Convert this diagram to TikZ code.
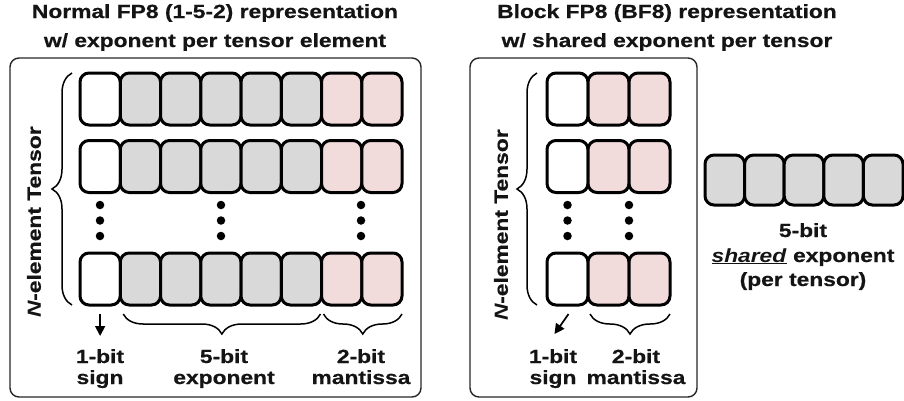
\documentclass[tikz,border=0pt]{standalone}
\usepackage{fontspec}
\setmainfont[FakeStretch=1.2, BoldFeatures={FakeBold=0.6}]{Liberation Sans}
\usetikzlibrary{decorations.pathreplacing,arrows.meta}
\definecolor{expgray}{HTML}{D9D9D9}
\definecolor{manpink}{HTML}{F2DCDB}
\definecolor{txt}{HTML}{141414}
\begin{document}
\begin{tikzpicture}[x=1pt,y=-1pt,
  cellbox/.style={draw=black, line width=3pt, rounded corners=9pt, minimum height=52pt, inner sep=0pt, outer sep=0pt},
  panel/.style={draw=black!85, line width=1.4pt, rounded corners=9pt, inner sep=0pt, outer sep=0pt},
  lbl/.style={anchor=base, inner sep=0pt, text=txt, font=\fontsize{19}{22}\selectfont\bfseries},
  dotnode/.style={circle, fill=black, inner sep=0pt, minimum size=8.5pt},
  bracestyle/.style={decorate, decoration={brace, amplitude=20pt}, line width=1.5pt},
  signarrow/.style={line width=1.7pt, -{Triangle[length=10pt,width=10pt]}}
]
\useasboundingbox (0,0) rectangle (904,400);

% titles
\node[lbl] (tL1) at (215,18) {Normal FP8 (1-5-2) representation};
\node[lbl] (tL2) at (215,47) {w/ exponent per tensor element};
\node[lbl] (tR1) at (667,18) {Block FP8 (BF8) representation};
\node[lbl] (tR2) at (667,47) {w/ shared exponent per tensor};

% panels
\node[panel, minimum width=411pt, minimum height=339pt] (panelL) at (215.5,227.5) {};
\node[panel, minimum width=227pt, minimum height=339pt] (panelR) at (583.5,227.5) {};

% left cells
\foreach \r/\yc in {1/99,2/166.5,3/279}{
  \foreach \i in {0,...,7}{
    \pgfmathsetmacro{\xc}{80+40.25*(\i+0.5)}
    \ifnum\i=0 \def\cfill{white}\else\ifnum\i<6 \def\cfill{expgray}\else\def\cfill{manpink}\fi\fi
    \node[cellbox, minimum width=40.25pt, fill=\cfill] (L\r-\i) at (\xc,\yc) {};
  }
}
% right cells
\foreach \r/\yc in {1/99,2/166.5,3/279}{
  \foreach \i in {0,...,2}{
    \pgfmathsetmacro{\xc}{547+41*(\i+0.5)}
    \ifnum\i=0 \def\cfill{white}\else\def\cfill{manpink}\fi
    \node[cellbox, minimum width=41pt, fill=\cfill] (R\r-\i) at (\xc,\yc) {};
  }
}
% shared exponent cells
\foreach \i in {0,...,4}{
  \pgfmathsetmacro{\xc}{705+39.6*(\i+0.5)}
  \node[cellbox, minimum width=39.6pt, minimum height=50pt, fill=expgray] (S-\i) at (\xc,180) {};
}

% dots
\foreach \x/\n in {100/a,221/b,361/c,567.5/d,629/e}{
  \foreach \y/\m in {205/1,220.5/2,236/3}{
    \node[dotnode] (dot\n\m) at (\x,\y) {};
  }
}

% vertical braces
\draw[bracestyle] ([xshift=-8pt]L3-0.south west) -- ([xshift=-8pt]L1-0.north west);
\draw[bracestyle] ([xshift=-10pt]R3-0.south west) -- ([xshift=-10pt]R1-0.north west);

\node[lbl, rotate=90, anchor=center] (nL) at (34,222) {\textit{N}-element Tensor};
\node[lbl, rotate=90, anchor=center] (nR) at (501,225) {\textit{N}-element Tensor};

% bottom braces
\draw[bracestyle] ([xshift=-1pt,yshift=-9pt]L3-5.south east) -- ([xshift=3pt,yshift=-9pt]L3-1.south west);
\draw[bracestyle] ([yshift=-9pt]L3-7.south east) -- ([xshift=2pt,yshift=-9pt]L3-6.south west);
\draw[bracestyle] ([yshift=-9pt]R3-2.south east) -- ([xshift=2pt,yshift=-9pt]R3-1.south west);

% sign arrows
\coordinate (aL0) at ([yshift=-9pt]L3-0.south);
\coordinate (aL1) at ([yshift=-31pt]L3-0.south);
\draw[signarrow] (aL0) -- (aL1);
\coordinate (aR0) at ([xshift=1pt,yshift=-9pt]R3-0.south);
\coordinate (aR1) at ([xshift=-13pt,yshift=-29pt]R3-0.south);
\draw[signarrow] (aR0) -- (aR1);

% bottom labels
\node[lbl] (l1a) at (100,363) {1-bit};
\node[lbl] (l1b) at (100,384) {sign};
\node[lbl] (l2a) at (224,363) {5-bit};
\node[lbl] (l2b) at (224,384) {exponent};
\node[lbl] (l3a) at (361,363) {2-bit};
\node[lbl] (l3b) at (361,384) {mantissa};
\node[lbl] (r1a) at (553,363) {1-bit};
\node[lbl] (r1b) at (553,384) {sign};
\node[lbl] (r2a) at (636,363) {2-bit};
\node[lbl] (r2b) at (636,384) {mantissa};

% shared labels
\node[lbl] (s1) at (803,237) {5-bit};
\node[lbl] (s2) at (803,262) {\underline{\textit{shared}} exponent};
\node[lbl] (s3) at (803,286) {(per tensor)};
\end{tikzpicture}
\end{document}
